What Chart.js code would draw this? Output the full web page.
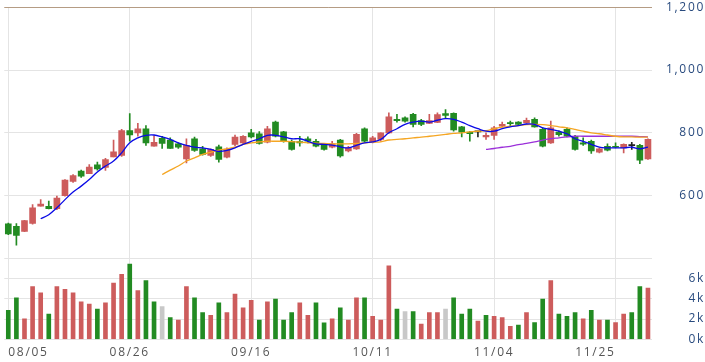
<!DOCTYPE html>
<html>
<head>
<meta charset="utf-8">
<script src="https://cdn.jsdelivr.net/npm/chart.js@4.4.1/dist/chart.umd.min.js"></script>
<style>
  html, body { margin: 0; padding: 0; background: #fff; }
</style>
</head>
<body>
<canvas id="stock-chart" width="705" height="362"></canvas>
<script>
// trading days
var dates = [
	"08/05","08/06","08/07","08/08","08/09","08/12","08/13","08/14","08/15","08/16",
	"08/19","08/20","08/21","08/22","08/23","08/26","08/27","08/28","08/29","08/30",
	"09/02","09/03","09/04","09/05","09/06","09/09","09/10","09/11","09/12","09/13",
	"09/16","09/17","09/18","09/19","09/20","09/23","09/24","09/25","09/26","09/27",
	"09/30","10/07","10/08","10/09","10/10","10/11","10/14","10/15","10/16","10/17",
	"10/18","10/21","10/22","10/23","10/24","10/25","10/29","10/30","10/31","11/01",
	"11/04","11/05","11/06","11/07","11/08","11/11","11/12","11/13","11/14","11/15",
	"11/18","11/19","11/20","11/21","11/22","11/25","11/26","11/27","11/28","11/29"
];
var tickDays = [0, 15, 30, 45, 60, 75];

var opens = [
	510,502,486,511,566,566,558,600,645,678, 670,698,690,723,728,807,800,813,757,782,
	777,765,717,781,749,728,755,722,763,768, 800,797,770,834,803,773,772,781,773,760,
	754,777,742,749,813,770,779,800,843,848, 859,839,830,833,861,862,819,802,803,787,
	792,821,832,834,832,843,811,768,802,811, 789,768,773,738,757,757,752,759,760,717
];
var highs = [
	512,511,521,571,587,582,598,651,667,681, 699,707,719,777,811,861,830,823,791,789,
	784,768,781,786,757,749,761,752,793,791, 811,804,821,837,805,777,789,787,779,762,
	773,779,757,798,816,789,800,864,859,851, 862,843,859,864,874,864,821,805,804,800,
	821,834,837,836,847,848,816,837,806,816, 792,784,777,752,765,768,765,770,763,781
];
var lows = [
	475,442,485,509,566,557,555,598,642,658, 670,681,680,723,725,773,789,760,757,750,
	750,750,704,741,729,725,706,720,758,763, 784,764,768,787,770,745,757,768,755,745,
	752,722,739,747,770,768,773,798,834,834, 819,823,829,832,848,805,787,773,787,779,
	779,819,823,823,830,818,755,766,789,787, 745,760,734,736,742,752,736,747,702,715
];
var closes = [
	478,473,520,561,573,558,592,649,664,662, 691,685,715,739,807,793,813,768,770,766,
	750,754,760,744,731,747,715,748,786,789, 787,766,813,789,773,747,768,773,757,747,
	765,726,752,795,773,784,800,851,839,837, 827,827,839,858,855,809,802,797,803,792,
	816,827,829,827,840,819,757,816,794,789, 747,764,742,749,745,754,763,759,713,779
];
var volumes = [
	2860,4100,2020,5200,4590,2500,5200,4940,4590,3710, 3480,2990,3610,5560,6410,7420,4810,5790,3710,3220,
	2150,1890,5200,4100,2630,2370,3610,2630,4460,3120, 3840,1890,3710,3970,1890,2630,3610,2370,3610,1630,
	2020,3120,1890,4100,4100,2280,1890,7250,2990,2730, 2730,1500,2630,2630,2990,4100,2500,2990,1790,2370,
	2280,2150,1270,1400,2630,1660,3970,5790,2500,2280, 2630,2020,2860,1890,1890,1660,2500,2630,5200,5070
];
// change against previous close: 1 up, -1 down, 0 unchanged
var volDir = [
	-1,-1,1,1,1,-1,1,1,1,1, 1,-1,1,1,1,-1,1,-1,-1,0,
	-1,1,1,-1,-1,1,-1,1,1,1, 1,-1,1,-1,-1,-1,1,1,-1,-1,
	1,-1,1,1,-1,1,1,1,-1,0, -1,1,1,1,0,-1,-1,-1,1,-1,
	1,1,1,-1,1,-1,-1,1,-1,-1, -1,1,-1,1,-1,1,1,-1,-1,1
];

// moving averages
var ma5 = [
	null,null,null,null,526,539,561,587,611,630, 651,675,694,710,736,768,784,792,793,787,
	779,768,760,754,752,747,741,744,752,763, 773,781,792,792,787,781,781,773,765,763,
	761,755,752,760,768,771,779,800,813,827, 834,837,834,840,845,843,834,823,813,805,
	805,813,819,823,828,827,816,811,805,797, 781,773,763,754,752,752,752,754,749,754
];
var ma20 = [
	null,null,null,null,null,null,null,null,null,null, null,null,null,null,null,null,null,null,null,667,
	681,694,710,720,731,738,745,749,754,763, 768,771,773,773,773,772,770,768,767,766,
	765,765,765,766,768,770,771,777,779,781, 784,786,789,792,795,798,800,803,805,807,
	813,818,821,823,826,827,826,823,819,816, 811,805,800,797,793,789,787,787,786,786
];
var ma60 = [
	null,null,null,null,null,null,null,null,null,null, null,null,null,null,null,null,null,null,null,null,
	null,null,null,null,null,null,null,null,null,null, null,null,null,null,null,null,null,null,null,null,
	null,null,null,null,null,null,null,null,null,null, null,null,null,null,null,null,null,null,null,747,
	750,754,757,762,766,771,777,781,784,787, 789,789,789,789,789,789,789,789,788,787
];

var priceTicks = [400, 600, 800, 1000, 1200];
var volTicks = [0, 2000, 4000, 6000, 8000];

var RED = "#cd5c5c";
var GREEN = "#228b22";
var GREY = "#c8c8c8";
var AXIS_BLUE = "#284a7e";
var GRID = "#e4e4e4";
var FONT = {family: "'Open Sans'", size: 12};
var SPACING = "1.7px";

var wicks = [], bodies = [], candleColors = [], volColors = [];
for (var i in dates) {
	wicks.push([lows[i], highs[i]]);
	bodies.push([opens[i], closes[i]]);
	if (closes[i] > opens[i]) candleColors.push(RED);
	else if (closes[i] < opens[i]) candleColors.push(GREEN);
	else candleColors.push("#222");
	volColors.push(volDir[i] > 0 ? RED : (volDir[i] < 0 ? GREEN : GREY));
}

// right aligned labels: padding so every label ends at the same x
var mctx = document.createElement("canvas").getContext("2d");
mctx.font = "12px 'Open Sans'";
mctx.letterSpacing = SPACING;
var labelEnd = 45;
var padPrice = labelEnd - mctx.measureText("1,200").width;
var padVol = labelEnd - mctx.measureText("6k").width;

function fixY(scale) {
	scale.width = 53;
	scale.paddingTop = 0;
	scale.paddingBottom = 0;
}

var spacingPlugin = {
	id: "spacing",
	beforeUpdate: function(chart) { chart.ctx.letterSpacing = SPACING; },
	beforeDraw: function(chart) { chart.ctx.letterSpacing = SPACING; }
};

var ctx = document.getElementById("stock-chart");

var StockChart = new Chart(ctx, {
	type: "bar",
	data: {
		labels: dates,
		datasets: [
			{
				type: "line",
				label: "MA5",
				data: ma5,
				borderColor: "#0a0ae6",
				borderWidth: 1.3,
				pointRadius: 0,
				tension: 0.4,
				yAxisID: "y",
				order: 1
			},
			{
				type: "line",
				label: "MA20",
				data: ma20,
				borderColor: "#f5a623",
				borderWidth: 1.3,
				pointRadius: 0,
				tension: 0.4,
				yAxisID: "y",
				order: 1
			},
			{
				type: "line",
				label: "MA60",
				data: ma60,
				borderColor: "#9b30d9",
				borderWidth: 1.3,
				pointRadius: 0,
				tension: 0.4,
				yAxisID: "y",
				order: 1
			},
			{
				label: "wick",
				data: wicks,
				backgroundColor: candleColors,
				barThickness: 1,
				grouped: false,
				yAxisID: "y",
				order: 2
			},
			{
				label: "body",
				data: bodies,
				backgroundColor: candleColors,
				barThickness: 6,
				minBarLength: 1,
				grouped: false,
				yAxisID: "y",
				order: 2
			},
			{
				label: "volume",
				data: volumes,
				backgroundColor: volColors,
				barThickness: 4,
				grouped: false,
				yAxisID: "yv",
				order: 2
			}
		]
	},
	options: {
		responsive: false,
		animation: false,
		layout: { padding: { left: 4.25, right: 0, top: 7.3, bottom: 0 } },
		plugins: { legend: { display: false }, tooltip: { enabled: false } },
		scales: {
			x: {
				offset: true,
				border: { display: false },
				grid: { offset: false, color: GRID, drawTicks: false },
				ticks: {
					autoSkip: false,
					maxRotation: 0,
					align: "inner",
					padding: 6,
					color: "#555",
					font: FONT,
					callback: function(value, index) {
						return tickDays.indexOf(index) >= 0 ? dates[index] : null;
					}
				},
				afterFit: function(scale) {
					scale.height = 22.7;
					scale.paddingLeft = 0;
					scale.paddingRight = 0;
				}
			},
			y: {
				position: "right",
				stack: "pane",
				stackWeight: 251,
				min: priceTicks[0],
				max: priceTicks[priceTicks.length - 1],
				border: { display: false },
				grid: {
					drawTicks: false,
					color: function(c) { return c.tick && c.tick.value === 1200 ? "#b59c84" : GRID; }
				},
				ticks: {
					stepSize: 200,
					autoSkip: false,
					crossAlign: "far",
					padding: padPrice,
					color: AXIS_BLUE,
					font: FONT,
					callback: function(value) {
						return value === priceTicks[0] ? "" : value.toLocaleString("en-US");
					}
				},
				afterFit: fixY
			},
			yv: {
				position: "right",
				stack: "pane",
				stackWeight: 81,
				min: volTicks[0],
				max: volTicks[volTicks.length - 1],
				border: { display: false },
				grid: { drawTicks: false, color: GRID },
				ticks: {
					stepSize: 2000,
					autoSkip: false,
					crossAlign: "far",
					padding: padVol,
					color: AXIS_BLUE,
					font: FONT,
					callback: function(value) {
						return value === 8000 ? null : (value / 1000) + "k";
					}
				},
				afterFit: fixY
			}
		}
	},
	plugins: [spacingPlugin]
});
</script>
</body>
</html>
